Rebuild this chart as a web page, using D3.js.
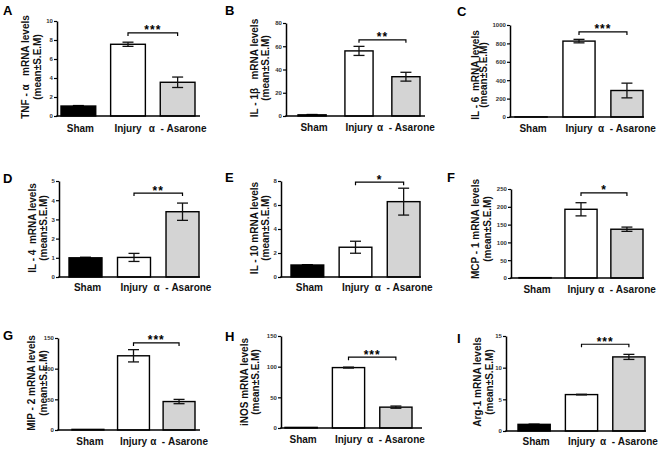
<!DOCTYPE html>
<html><head><meta charset="utf-8">
<script src="https://cdn.jsdelivr.net/npm/d3@7"></script>
<style>
html,body{margin:0;padding:0;background:#fff;}
svg text{font-family:"Liberation Sans",Arial,sans-serif;}
</style></head>
<body><svg id="c" width="666" height="452"></svg>
<script>
// ---------- DATA ----------
const categories = ["Sham", "Injury", "α\u00A0\u00A0- Asarone"];
const panelLetters = ["A","B","C","D","E","F","G","H","I"];
const yTitles = ["TNF - α   mRNA levels","IL - 1β   mRNA levels","IL - 6  mRNA levels",
                 "IL - 4  mRNA levels","IL - 10 mRNA levels","MCP - 1 mRNA levels",
                 "MIP - 2 mRNA levels","iNOS mRNA levels","Arg-1 mRNA levels"];
const yTitle2 = "(mean±S.E.M)";
const shamValues    = [1.05, 1, 1, 1.0, 1.0, 1, 1, 1, 1.05];
const shamErr       = [0.05, 0.3, 0, 0.03, 0.03, 0, 0, 0, 0.02];
const injuryValues  = [7.55, 56, 825, 1.02, 2.48, 193, 121, 98.5, 5.75];
const injuryErr     = [0.22, 3.9, 19, 0.21, 0.5, 18.5, 10, 0.8, 0.05];
const asaroneValues = [3.55, 33.8, 288, 3.4, 6.28, 137, 46.4, 34, 11.7];
const asaroneErr    = [0.55, 3.8, 80, 0.45, 1.12, 6, 3.5, 1.8, 0.4];
const yMax   = [10, 80, 1000, 5, 8, 250, 150, 150, 15];
const yStep  = [2, 20, 200, 1, 2, 50, 50, 50, 5];
const sigStars = ["***","**","***","**","*","*","***","***","***"];
const sigLevel = [8.75, 65.5, 925, 4.37, 7.9, 239, 142, 115.5, 13.7];

// ---------- LAYOUT (positions only) ----------
const layout = [
 {ax:57, top:21, base:116, xEnd:200, r:[61,195], pad:.3, t1:28.5, t2:40.5, tc:67, lx:3, ly:15, cy:132},
 {ax:286, top:23, base:116, xEnd:425, r:[298,420], pad:.4, t1:257.5, t2:268.5, tc:68, lx:225, ly:15, cy:131},
 {ax:510, top:25, base:117, xEnd:644, r:[515,643], pad:.33, t1:478.5, t2:486.5, tc:75, lx:457, ly:16, cy:132, serif:true},
 {ax:59, top:181, base:277, xEnd:200, r:[69,199], pad:.32, t1:35.5, t2:47, tc:228, lx:3, ly:183, cy:291},
 {ax:281, top:181, base:277, xEnd:421, r:[291,420], pad:.32, t1:257.5, t2:268.5, tc:228, lx:225, ly:182, cy:291},
 {ax:511, top:189, base:278, xEnd:644, r:[519,643], pad:.3, t1:479, t2:491, tc:229, lx:447, ly:182, cy:293},
 {ax:58, top:338, base:430, xEnd:200, r:[72,195], pad:.3, t1:34.5, t2:46.5, tc:383, lx:3, ly:340, cy:445},
 {ax:281, top:336, base:428, xEnd:422, r:[285,412], pad:.32, t1:247.5, t2:258.5, tc:382, lx:225, ly:341, cy:443},
 {ax:506, top:336, base:431, xEnd:646, r:[518,645], pad:.32, t1:480.5, t2:492.5, tc:382, lx:457, ly:343, cy:445}
];
const fills = ["#000000", "#ffffff", "#d4d4d4"];

const svg = d3.select("#c");

layout.forEach((L, i) => {
  const g = svg.append("g");
  const vals = [shamValues[i], injuryValues[i], asaroneValues[i]];
  const errs = [shamErr[i], injuryErr[i], asaroneErr[i]];
  const y = d3.scaleLinear().domain([0, yMax[i]]).range([L.base, L.top]);
  const x = d3.scaleBand().domain(categories).range(L.r).paddingInner(L.pad).paddingOuter(0);

  // bars
  g.selectAll("rect.bar").data(categories).join("rect")
    .attr("x", d => x(d)).attr("width", x.bandwidth())
    .attr("y", (d, j) => y(vals[j])).attr("height", (d, j) => y(0) - y(vals[j]))
    .attr("fill", (d, j) => fills[j]).attr("stroke", "#000").attr("stroke-width", 1.4);

  // error bars
  const cap = 5.5;
  categories.forEach((c, j) => {
    if (errs[j] <= 0) return;
    const cx = x(c) + x.bandwidth() / 2;
    const col = j === 0 ? "#000" : "#111";
    g.append("line").attr("x1", cx).attr("x2", cx)
      .attr("y1", y(vals[j] - errs[j])).attr("y2", y(vals[j] + errs[j]))
      .attr("stroke", col).attr("stroke-width", 1.3);
    [vals[j] - errs[j], vals[j] + errs[j]].forEach(v => {
      g.append("line").attr("x1", cx - cap).attr("x2", cx + cap)
        .attr("y1", y(v)).attr("y2", y(v)).attr("stroke", col).attr("stroke-width", 1.3);
    });
  });

  // y axis
  const ticks = d3.range(0, yMax[i] + yStep[i] / 2, yStep[i]);
  const ya = g.append("g").attr("transform", `translate(${L.ax},0)`)
    .call(d3.axisLeft(y).tickValues(ticks).tickSize(3).tickSizeOuter(0).tickPadding(1.2).tickFormat(d3.format("d")));
  ya.select(".domain").attr("stroke-width", 1.5);
  ya.selectAll(".tick line").attr("stroke-width", 1.2);
  ya.selectAll(".tick text").attr("font-size", 6).attr("font-weight", "bold")
    .attr("font-family", "Liberation Sans, Arial, sans-serif").attr("fill", "#333");

  // x axis line
  g.append("line").attr("x1", L.ax - 0.75).attr("x2", L.xEnd)
    .attr("y1", y(0)).attr("y2", y(0)).attr("stroke", "#000").attr("stroke-width", 1.6);

  // category labels
  g.selectAll("text.cat").data(categories).join("text")
    .attr("x", d => x(d) + x.bandwidth() / 2 + (d === "Sham" ? 2 : 0)).attr("y", L.cy)
    .attr("text-anchor", "middle").attr("font-size", 10).attr("font-weight", "bold")
    .attr("fill", "#111").text(d => d);

  // significance bracket
  const x1 = x(categories[1]) + x.bandwidth() / 2, x2 = x(categories[2]) + x.bandwidth() / 2;
  const by = y(sigLevel[i]);
  g.append("path").attr("d", `M${x1},${by + 3}V${by}H${x2}V${by + 3}`)
    .attr("fill", "none").attr("stroke", "#000").attr("stroke-width", 1.2);
  g.append("text").attr("x", (x1 + x2) / 2).attr("y", by + 1.5)
    .attr("text-anchor", "middle").attr("font-size", 12).attr("font-weight", "bold")
    .attr("letter-spacing", 1).text(sigStars[i]);

  // y titles
  const fam = L.serif ? "Liberation Serif, Times New Roman, serif" : "Liberation Sans, Arial, sans-serif";
  [[L.t1, yTitles[i]], [L.t2, yTitle2]].forEach(([tx, t]) => {
    g.append("text").attr("transform", `translate(${tx},${L.tc}) rotate(-90)`)
      .attr("text-anchor", "middle").attr("font-size", 10).attr("font-weight", "bold")
      .attr("font-family", fam).style("white-space", "pre").attr("fill", "#111").text(t);
  });

  // panel letter
  g.append("text").attr("x", L.lx).attr("y", L.ly).attr("font-size", 13)
    .attr("font-weight", "bold").text(panelLetters[i]);
});
</script></body></html>
